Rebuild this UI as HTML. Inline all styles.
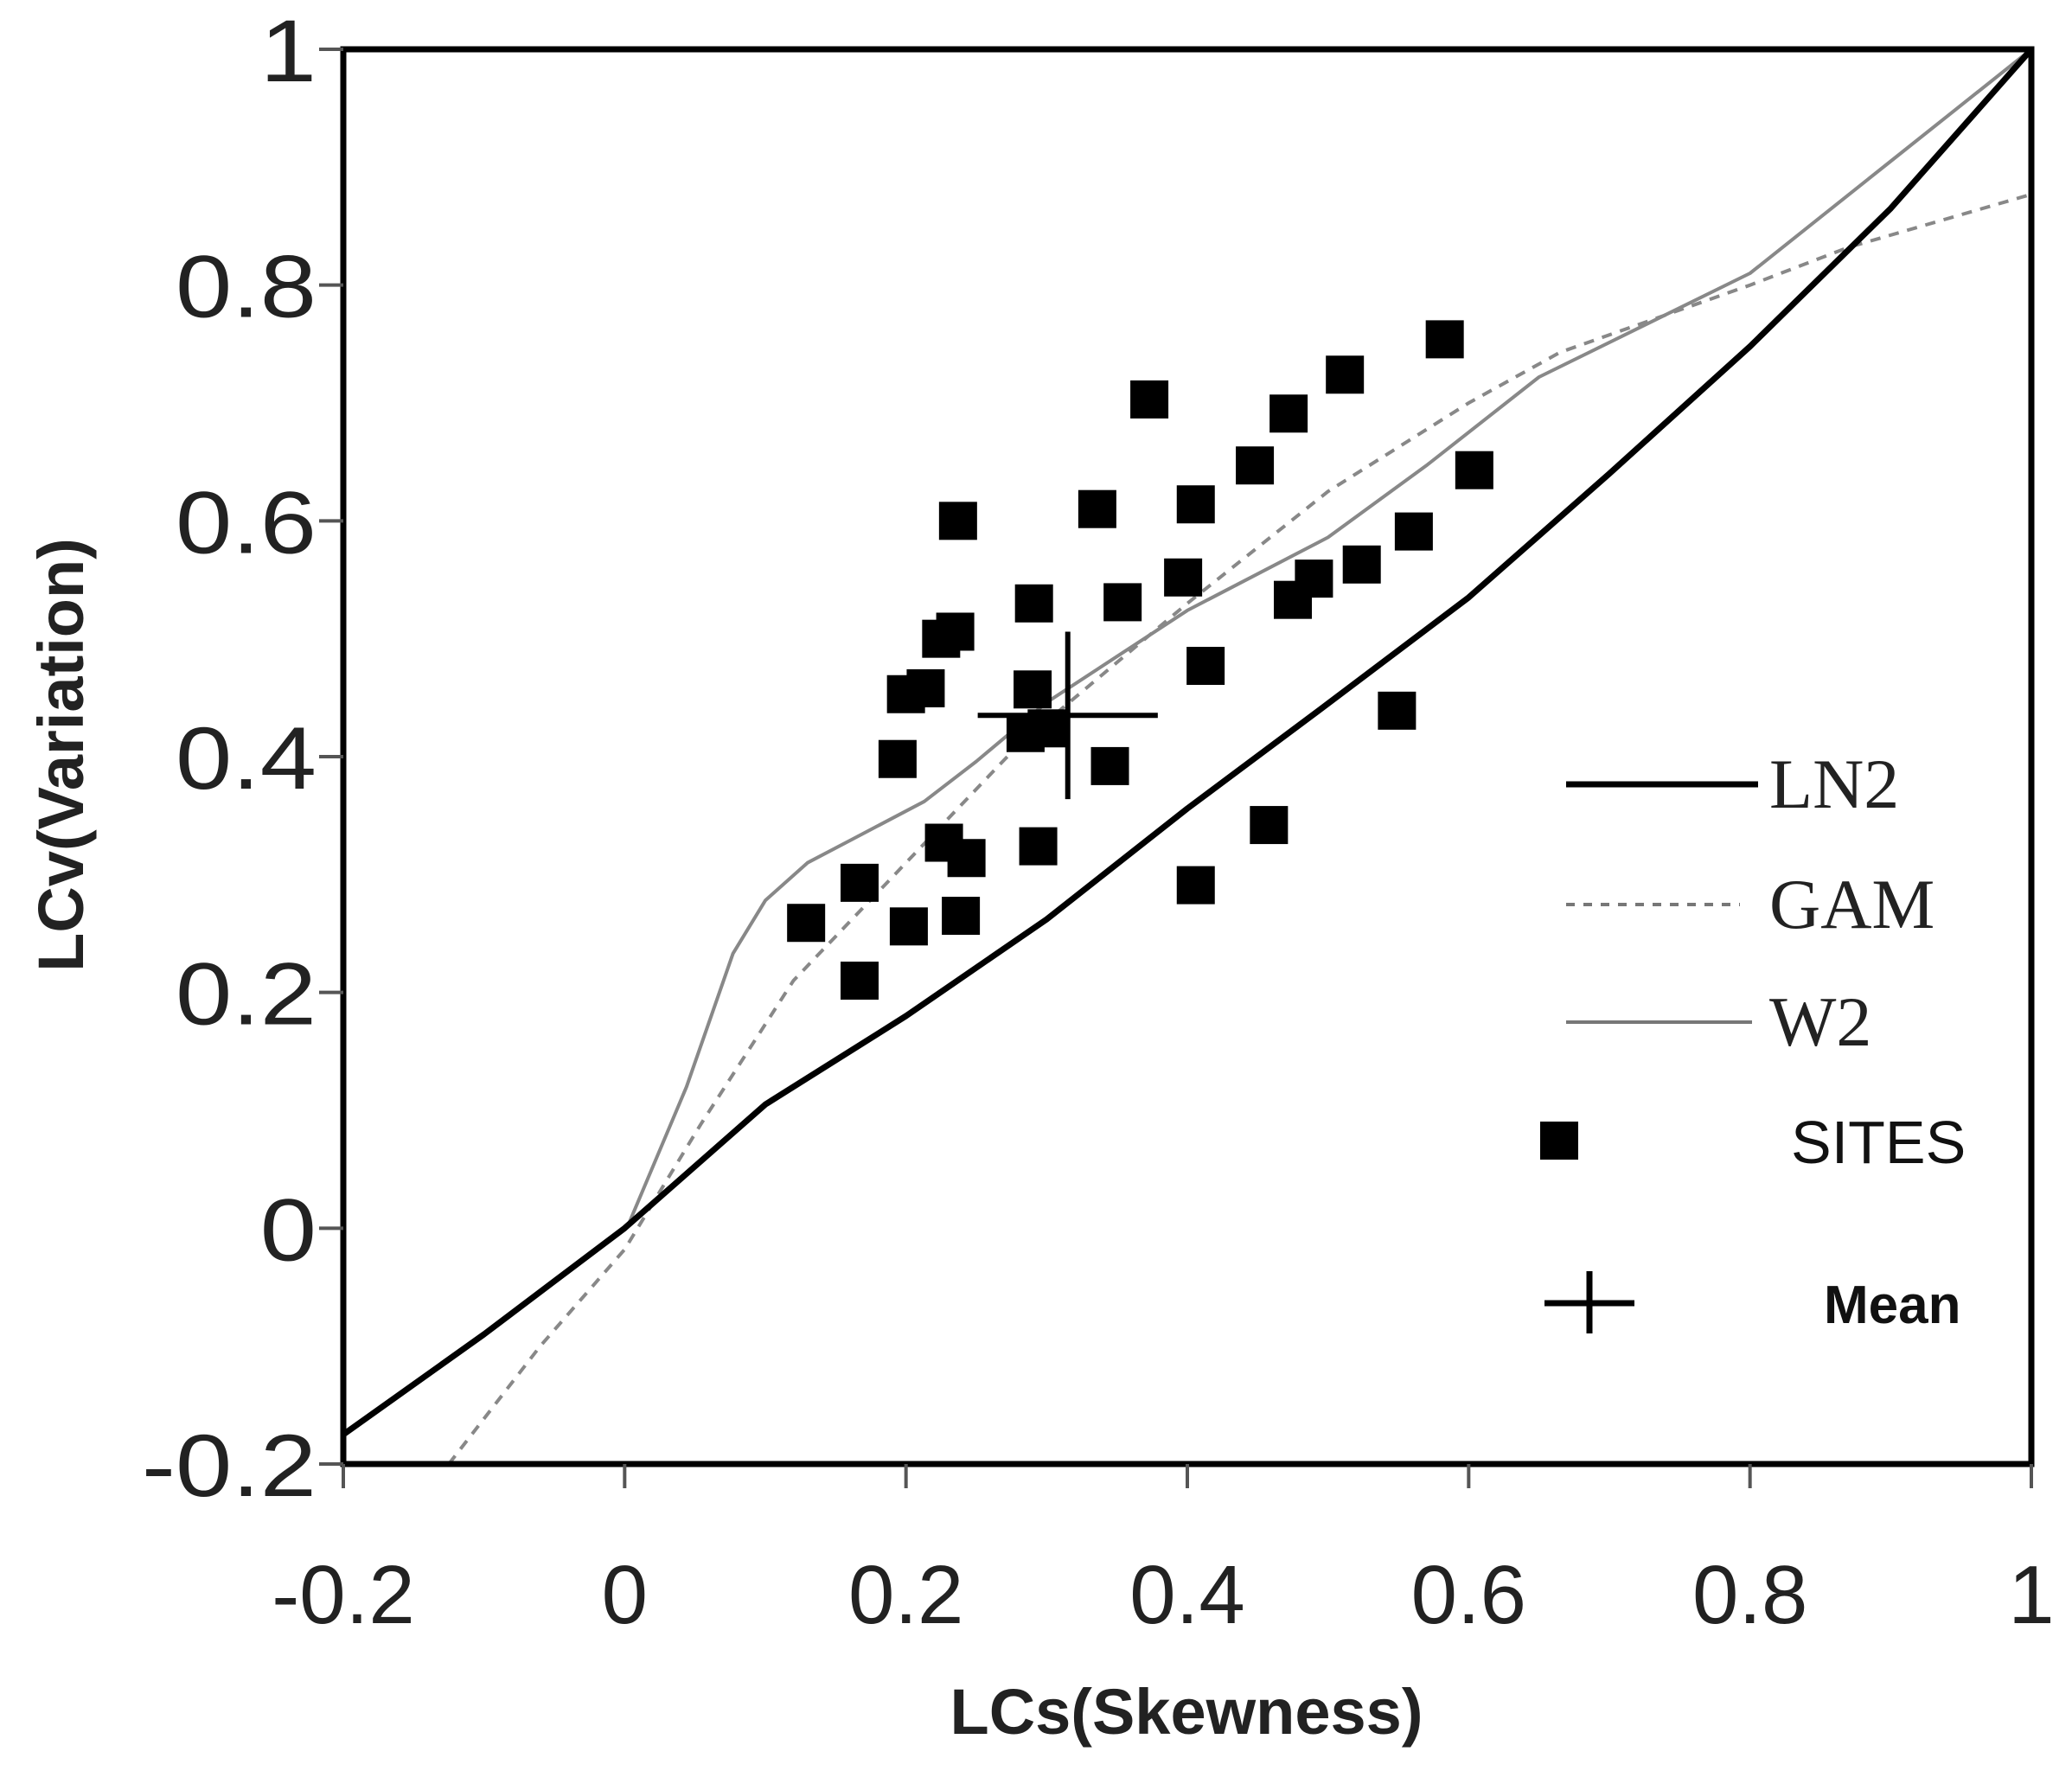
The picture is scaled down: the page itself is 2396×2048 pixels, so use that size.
<!DOCTYPE html>
<html><head><meta charset="utf-8">
<style>html,body{margin:0;padding:0;background:#fff;}svg{display:block;}</style>
</head><body>
<svg id="chart" width="2396" height="2048" viewBox="0 0 2396 2048" xmlns="http://www.w3.org/2000/svg">
<rect width="2396" height="2048" fill="#fff"/>
<g id="curves"></g>
<g id="points"></g>
<g id="axes"></g>
<g id="legend">
  <line x1="1811" y1="907" x2="2033" y2="907" stroke="#000" stroke-width="7"/>
  <text x="2046" y="934" font-family="'Liberation Serif',serif" font-size="82" fill="#222">LN2</text>
  <line x1="1811" y1="1046" x2="2012" y2="1046" stroke="#777" stroke-width="4" stroke-dasharray="10,10"/>
  <text x="2046" y="1073" font-family="'Liberation Serif',serif" font-size="82" fill="#222">GAM</text>
  <line x1="1811" y1="1182" x2="2026" y2="1182" stroke="#777" stroke-width="4"/>
  <text x="2046" y="1209" font-family="'Liberation Serif',serif" font-size="82" fill="#222">W2</text>
  <rect x="1781" y="1297" width="44" height="44" fill="#000"/>
  <text x="2071" y="1345" font-family="'Liberation Sans',sans-serif" font-size="70" fill="#111">SITES</text>
  <line x1="1786" y1="1507" x2="1890" y2="1507" stroke="#000" stroke-width="7"/>
  <line x1="1838" y1="1470" x2="1838" y2="1542" stroke="#000" stroke-width="7"/>
  <text x="2109" y="1530" font-family="'Liberation Sans',sans-serif" font-weight="bold" font-size="62" fill="#111">Mean</text>
</g>
<text x="1372" y="2005" text-anchor="middle" font-family="'Liberation Sans',sans-serif" font-weight="bold" font-size="74" fill="#222">LCs(Skewness)</text>
<text transform="translate(96,873) rotate(-90)" text-anchor="middle" font-family="'Liberation Sans',sans-serif" font-weight="bold" font-size="74" fill="#222">LCv(Variation)</text>
</svg>
<script>
const xTicks = [-0.2, 0, 0.2, 0.4, 0.6, 0.8, 1];
const yTicks = [-0.2, 0, 0.2, 0.4, 0.6, 0.8, 1];
const xTickLabels = ["-0.2", "0", "0.2", "0.4", "0.6", "0.8", "1"];
const yTickLabels = ["-0.2", "0", "0.2", "0.4", "0.6", "0.8", "1"];
const siteX = [0.129,0.167,0.167,0.202,0.200,0.214,0.194,0.225,0.235,0.237,0.227,0.243,0.239,0.291,0.294,0.290,0.285,0.300,0.336,0.354,0.345,0.373,0.397,0.406,0.413,0.406,0.448,0.472,0.458,0.475,0.490,0.512,0.524,0.549,0.561,0.583,0.604];
const siteY = [0.259,0.293,0.210,0.256,0.453,0.458,0.398,0.500,0.506,0.600,0.327,0.314,0.265,0.530,0.324,0.457,0.420,0.424,0.610,0.531,0.392,0.703,0.552,0.614,0.477,0.291,0.647,0.691,0.342,0.533,0.551,0.724,0.563,0.439,0.591,0.754,0.643];
const ln2X = [-0.2,-0.1,0,0.1,0.2,0.3,0.4,0.5,0.6,0.7,0.8,0.9,1.0];
const ln2Y = [-0.175,-0.09,0,0.105,0.18,0.262,0.356,0.445,0.535,0.64,0.748,0.865,1.0];
const gamX = [-0.125,-0.06,0,0.054,0.12,0.2,0.28,0.4,0.5,0.6,0.665,0.8,0.87,1.0];
const gamY = [-0.2,-0.1,-0.018,0.088,0.21,0.31,0.41,0.53,0.625,0.7,0.743,0.8,0.832,0.877];
const w2X = [0.003,0.044,0.077,0.1,0.13,0.162,0.213,0.25,0.3,0.4,0.5,0.57,0.65,0.8,0.9,1.0];
const w2Y = [0.004,0.12,0.233,0.278,0.31,0.33,0.362,0.396,0.446,0.524,0.586,0.647,0.722,0.81,0.905,1.0];
const meanX = 0.315, meanY = 0.435, meanErrX = 0.064, meanErrY = 0.071;

const L=397,R=2349,T=57,B=1693;
const sx = v => L + (v - (-0.2)) / 1.2 * (R - L);
const sy = v => B - (v - (-0.2)) / 1.2 * (B - T);
const NS='http://www.w3.org/2000/svg';
function mk(tag, parent, attrs){const e=document.createElementNS(NS,tag);for(const k in attrs)e.setAttribute(k,attrs[k]);parent.appendChild(e);return e;}
function pathD(xs, ys){return xs.map((x,i)=>(i?'L':'M')+sx(x).toFixed(1)+','+sy(ys[i]).toFixed(1)).join(' ');}

const curves=document.getElementById('curves');
let p=mk('path',curves,{d:pathD(w2X,w2Y),fill:'none',stroke:'#888','stroke-width':4,'stroke-linejoin':'round'});


p=mk('path',curves,{d:pathD(gamX,gamY),fill:'none',stroke:'#888','stroke-width':4,'stroke-dasharray':'12,10'});


p=mk('path',curves,{d:pathD(ln2X,ln2Y),fill:'none',stroke:'#000','stroke-width':7,'stroke-linejoin':'round'});



const pts=document.getElementById('points');
const S=44;
siteX.forEach((x,i)=>{
  const r=mk('rect',pts,{x:sx(x)-S/2,y:sy(siteY[i])-S/2,width:S,height:S,fill:'#000'});
  
  
});
let m=mk('line',pts,{x1:sx(meanX-meanErrX),y1:sy(meanY),x2:sx(meanX+meanErrX),y2:sy(meanY),stroke:'#000','stroke-width':6});


m=mk('line',pts,{x1:sx(meanX),y1:sy(meanY+meanErrY),x2:sx(meanX),y2:sy(meanY-meanErrY),stroke:'#000','stroke-width':6});



const axes=document.getElementById('axes');
const fr=mk('rect',axes,{x:L,y:T,width:R-L,height:B-T,fill:'none',stroke:'#000','stroke-width':7});


xTicks.forEach((v,i)=>{
  const t=mk('line',axes,{x1:sx(v),y1:B,x2:sx(v),y2:B+28,stroke:'#555','stroke-width':4});
  
  
  const tx=mk('text',axes,{x:sx(v),y:1877,'text-anchor':'middle','font-family':"'Liberation Sans',sans-serif",'font-size':96,fill:'#222'});
  tx.textContent=xTickLabels[i];
  
  
});
yTicks.forEach((v,i)=>{
  const t=mk('line',axes,{x1:L-28,y1:sy(v),x2:L,y2:sy(v),stroke:'#555','stroke-width':4});
  
  
  const ty=mk('text',axes,{x:0,y:0,transform:'translate(366,'+(sy(v)+37)+') scale(1.15,1)','text-anchor':'end','font-family':"'Liberation Sans',sans-serif",'font-size':102,fill:'#222'});
  ty.textContent=yTickLabels[i];
  
  
});
</script>
</body></html>
